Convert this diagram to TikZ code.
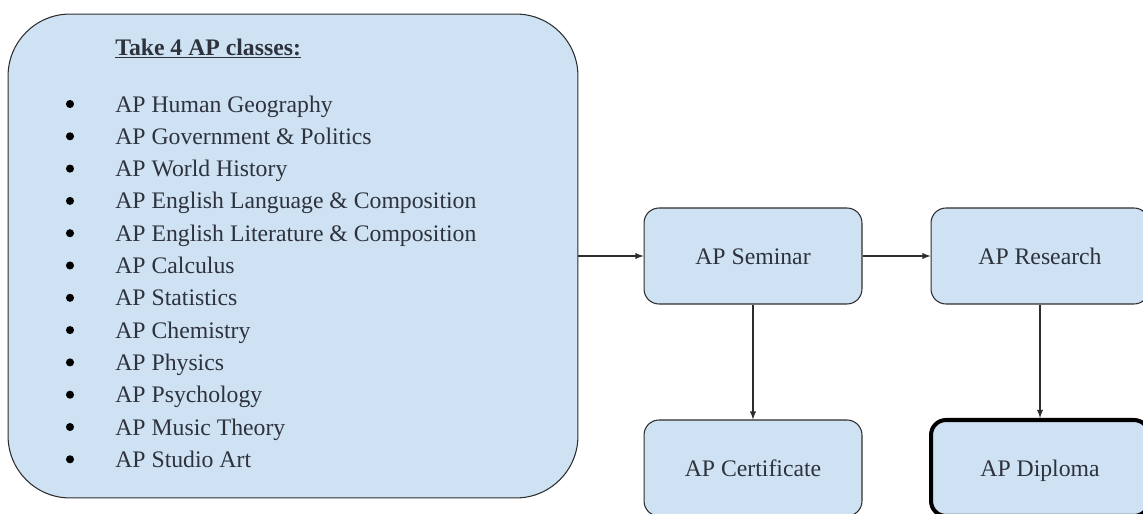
\documentclass[tikz,border=0pt]{standalone}
\usepackage{fontspec}
\setmainfont{Liberation Serif}
\usepackage{tikz}
\usetikzlibrary{arrows,shapes,positioning}
\usepackage{xcolor}
\definecolor{apblue}{RGB}{207,226,243}
\definecolor{apline}{RGB}{45,45,45}
\definecolor{aptext}{RGB}{45,50,60}
\tikzstyle{stepbox} = [draw=apline, fill=apblue, line width=0.6pt, rounded corners=0.3cm, minimum width=4.36cm, minimum height=1.92cm, inner sep=0pt, text height=10pt, text depth=0pt, text=aptext]
\tikzstyle{listbox} = [draw=apline, fill=apblue, line width=0.6pt, rounded corners=1.24cm, minimum width=11.4cm, minimum height=9.68cm, inner sep=0pt]
\tikzstyle{item} = [anchor=base west, inner sep=0pt, text=aptext]
\tikzstyle{arrow} = [line width=0.6pt,->,>=latex,color=apline]

\begin{document}
\begin{tikzpicture}[x=0.02cm, y=-0.02cm, font=\fontsize{13.5}{16}\selectfont]
\clip (0,0) rectangle (1143,514);
% Course list
\node[listbox] (classes) at (293,256) {};
\node[item] (title) at (115,55) {\underline{\textbf{Take 4 AP classes:}}};
\foreach \course [count=\i from 0] in {AP Human Geography, AP Government \& Politics, AP World History, AP English Language \& Composition, AP English Literature \& Composition, AP Calculus, AP Statistics, AP Chemistry, AP Physics, AP Psychology, AP Music Theory, AP Studio Art}{
  \pgfmathsetmacro{\yy}{104+32.3*\i}
  \fill[black] (70,\yy) circle (2.3pt);
  \node[item] (course\i) at (115,\yy+8) {\course};
}

% Steps
\node[stepbox] (seminar) at (753,256) {AP Seminar};
\node[stepbox] (research) at (1040,256) {AP Research};
\node[stepbox] (certificate) at (753,468) {AP Certificate};
\node[stepbox, line width=2.3pt, draw=black] (diploma) at (1040,468) {AP Diploma};

% Arrows
\draw[arrow] (classes) -- (seminar);
\draw[arrow] (seminar) -- (research);
\draw[arrow] (seminar) -- (certificate);
\draw[arrow] (research) -- (diploma);
\end{tikzpicture}
\end{document}
